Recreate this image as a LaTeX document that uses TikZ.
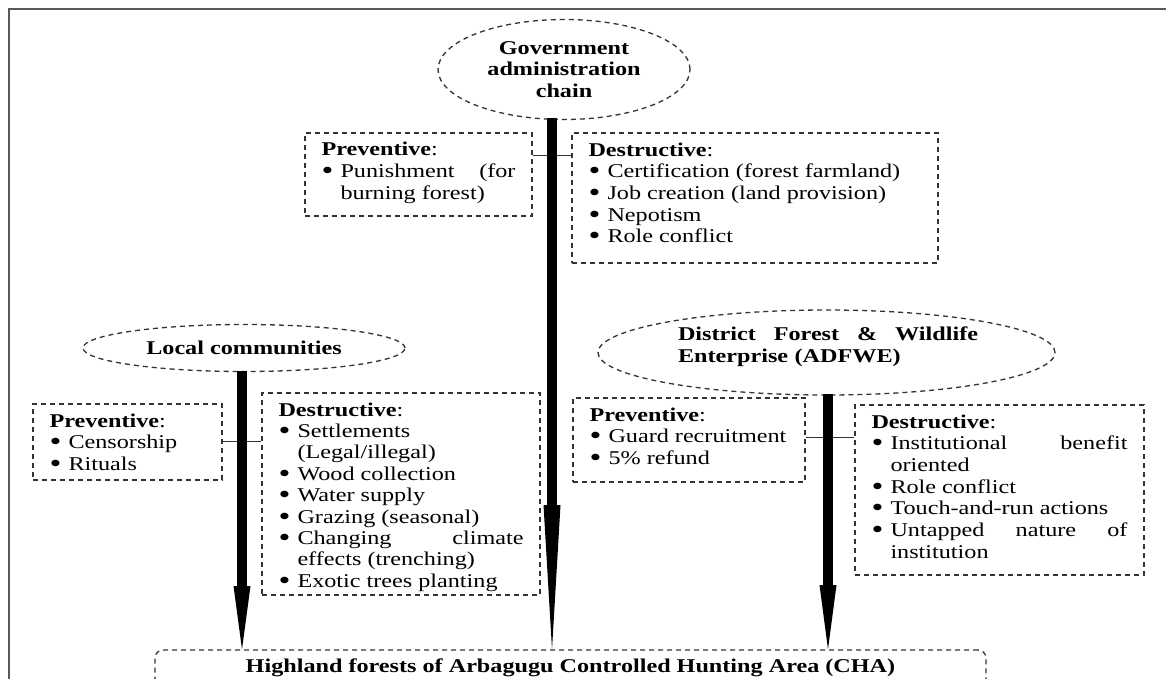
\documentclass[tikz,border=0pt]{standalone}
\usepackage{fontspec}
\setmainfont{Liberation Serif}[FakeStretch=1.24]
\usetikzlibrary{arrows.meta,shapes.geometric}
\newcommand{\bul}{\makebox[19pt][l]{\raisebox{-2pt}{\smash{\scalebox{1.4}{\textbullet}}}}}
\newcommand{\cnt}{\hspace*{19pt}}
\newcommand{\hdr}[1]{\rule{0pt}{23pt}\textbf{#1}:}
\newcommand{\boxtext}[3]{\parbox[c][#1][t]{#2}{#3}}
\begin{document}
\begin{tikzpicture}[x=1pt,y=-1pt,
  font=\fontsize{19.5}{21.7}\selectfont,
  dsh/.style={draw=black!80, dash pattern=on 5pt off 4pt, line width=1.3pt},
  dbox/.style={dsh, rectangle, inner sep=0pt},
  ell/.style={dsh, ellipse, inner sep=0pt, align=center},
  bar/.style={line width=10pt, draw=black},
  head/.style={fill=black},
  conn/.style={draw=black!80, line width=1pt},
  lbl/.style={inner sep=0pt}]
\clip (0,0) rectangle (1166,679);
\fill[white] (0,0) rectangle (1166,679);
% outer frame
\draw[black!65, line width=2pt] (9,700) -- (9,9) -- (1170,9);

% ellipses
\node[ell, minimum width=252pt, minimum height=100pt] (gov) at (564,69.5)
  {\textbf{Government}\\\textbf{administration}\\\textbf{chain}};
\node[ell, minimum width=322pt, minimum height=47pt] (loc) at (244,348)
  {\textbf{Local communities}};
\node[ell, minimum width=457pt, minimum height=85pt] (adf) at (826.5,352.5) {};
\node[lbl, text width=300pt] (adft) at (828,347)
  {\noindent\textbf{District\hfill Forest\hfill \&\hfill Wildlife}\\
   \textbf{Enterprise (ADFWE)}};

% boxes
\node[dbox, minimum width=227pt] (gp) at (418.5,174.5)
  {\boxtext{83pt}{194pt}{\hdr{Preventive}\\
   \bul Punishment\hfill (for\\
   \cnt burning forest)}};
\node[dbox, minimum width=366pt] (gd) at (755,198)
  {\boxtext{130pt}{333pt}{\hdr{Destructive}\\
   \bul Certification (forest farmland)\\
   \bul Job creation (land provision)\\
   \bul Nepotism\\
   \bul Role conflict}};
\node[dbox, minimum width=189pt] (lp) at (127.5,442)
  {\boxtext{76pt}{156pt}{\hdr{Preventive}\\
   \bul Censorship\\
   \bul Rituals}};
\node[dbox, minimum width=278pt] (ld) at (401,494)
  {\boxtext{202pt}{245pt}{\fontsize{19.5}{21.4}\selectfont\hdr{Destructive}\\
   \bul Settlements\\
   \cnt (Legal/illegal)\\
   \bul Wood collection\\
   \bul Water supply\\
   \bul Grazing (seasonal)\\
   \bul Changing\hfill climate\\
   \cnt effects (trenching)\\
   \bul Exotic trees planting}};
\node[dbox, minimum width=232pt] (ap) at (689,440)
  {\boxtext{84pt}{199pt}{\hdr{Preventive}\\
   \bul \mbox{Guard recruitment}\\
   \bul 5\% refund}};
\node[dbox, minimum width=289pt] (ad) at (999.5,490)
  {\boxtext{170pt}{256pt}{\hdr{Destructive}\\
   \bul Institutional\hfill benefit\\
   \cnt oriented\\
   \bul Role conflict\\
   \bul Touch-and-run actions\\
   \bul Untapped\hfill nature\hfill of\\
   \cnt institution}};
\node[dbox, rounded corners=8pt, minimum width=831pt, minimum height=36pt] (cha) at (570.5,668)
  {\textbf{Highland forests of Arbagugu Controlled Hunting Area (CHA)}};

% thin connectors
\coordinate (gline) at (0,156);
\coordinate (lline) at (0,441);
\coordinate (aline) at (0,437);
\draw[conn] (gp.east |- gline) -- (gd.west |- gline);
\draw[conn] (lp.east |- lline) -- (ld.west |- lline);
\draw[conn] (ap.east |- aline) -- (ad.west |- aline);

% thick arrows
\coordinate (gtop) at (552,118);
\coordinate (ghead) at (552,505);
\coordinate (ltop) at (242,371);
\coordinate (lhead) at (242,586);
\coordinate (atop) at (828,394);
\coordinate (ahead) at (828,585);
\draw[bar] (gtop) -- (ghead);
\fill[head] ([xshift=-8.5pt]ghead) -- (cha.north -| ghead) -- ([xshift=8.5pt]ghead) -- cycle;
\draw[bar] (ltop) -- (lhead);
\fill[head] ([xshift=-8.5pt]lhead) -- (cha.north -| lhead) -- ([xshift=8.5pt]lhead) -- cycle;
\draw[bar] (atop) -- (ahead);
\fill[head] ([xshift=-8.5pt]ahead) -- (cha.north -| ahead) -- ([xshift=8.5pt]ahead) -- cycle;
\end{tikzpicture}
\end{document}
